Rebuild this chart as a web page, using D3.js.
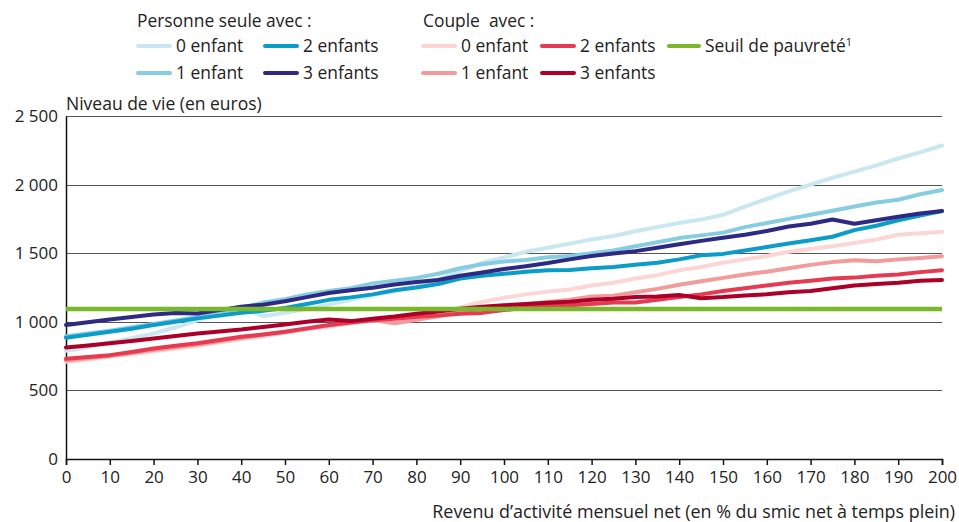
<!DOCTYPE html>
<meta charset="utf-8">
<style>
body { margin: 0; background: #fff; font-family: "Open Sans", sans-serif; }
text { fill: #222; }
</style>
<body>
<script src="https://cdn.jsdelivr.net/npm/d3@7"></script>
<script>
// revenu d'activité (en % du smic), pas de 5
var revenu = d3.range(0, 201, 5);

// niveau de vie (en euros)
var seule0 = [789, 815, 850, 880, 915, 960, 1010, 1060, 1110, 1040, 1065, 1095, 1125, 1160, 1195, 1225, 1260, 1310, 1370, 1430, 1470, 1510, 1540, 1570, 1600, 1625, 1660, 1690, 1720, 1745, 1780, 1840, 1895, 1950, 2000, 2050, 2095, 2140, 2190, 2235, 2285];
var seule1 = [895, 915, 935, 960, 985, 1010, 1035, 1065, 1100, 1140, 1165, 1200, 1225, 1245, 1280, 1300, 1320, 1350, 1390, 1420, 1440, 1450, 1470, 1480, 1500, 1520, 1550, 1580, 1610, 1630, 1650, 1690, 1720, 1750, 1780, 1810, 1840, 1870, 1890, 1930, 1960];
var seule2 = [884, 905, 927, 950, 976, 1000, 1025, 1045, 1066, 1080, 1100, 1130, 1160, 1178, 1200, 1230, 1250, 1275, 1315, 1335, 1350, 1365, 1375, 1378, 1390, 1400, 1415, 1430, 1455, 1485, 1495, 1520, 1545, 1570, 1595, 1620, 1668, 1700, 1740, 1775, 1808];
var seule3 = [976, 996, 1017, 1035, 1054, 1065, 1060, 1085, 1109, 1125, 1150, 1180, 1210, 1230, 1248, 1272, 1290, 1305, 1335, 1360, 1385, 1405, 1428, 1455, 1480, 1498, 1515, 1540, 1565, 1590, 1612, 1635, 1662, 1695, 1715, 1746, 1715, 1740, 1765, 1790, 1808];
var couple0 = [709, 725, 745, 765, 785, 805, 825, 850, 875, 895, 920, 945, 965, 990, 1010, 995, 1025, 1060, 1105, 1145, 1175, 1200, 1220, 1235, 1265, 1285, 1315, 1340, 1375, 1400, 1430, 1455, 1480, 1510, 1530, 1550, 1575, 1600, 1635, 1645, 1656];
var couple1 = [718, 735, 752, 772, 795, 815, 835, 858, 882, 905, 925, 950, 972, 995, 1015, 990, 1015, 1040, 1075, 1095, 1110, 1128, 1145, 1160, 1185, 1190, 1215, 1240, 1270, 1295, 1320, 1345, 1365, 1390, 1415, 1435, 1448, 1442, 1455, 1465, 1478];
var couple2 = [730, 743, 757, 780, 806, 825, 843, 868, 891, 908, 927, 952, 976, 995, 1012, 1022, 1036, 1045, 1058, 1065, 1085, 1105, 1115, 1120, 1130, 1140, 1140, 1160, 1180, 1200, 1225, 1245, 1265, 1285, 1300, 1315, 1322, 1335, 1345, 1362, 1376];
var couple3 = [813, 828, 843, 860, 879, 897, 915, 930, 944, 962, 981, 1000, 1017, 1005, 1022, 1038, 1058, 1075, 1095, 1110, 1120, 1130, 1138, 1146, 1160, 1168, 1180, 1185, 1195, 1172, 1180, 1192, 1200, 1215, 1225, 1245, 1265, 1275, 1285, 1300, 1305];
var seuil = 1093;

var xTicks = d3.range(0, 201, 10);
var yTicks = [0, 500, 1000, 1500, 2000, 2500];

var series = [
  {name: "0 enfant", values: seule0, color: "#c9e7f1"},
  {name: "1 enfant", values: seule1, color: "#86cde1"},
  {name: "2 enfants", values: seule2, color: "#0b9cc8"},
  {name: "3 enfants", values: seule3, color: "#2e2a84"},
  {name: "0 enfant", values: couple0, color: "#fcd6d4"},
  {name: "1 enfant", values: couple1, color: "#f29b9b"},
  {name: "2 enfants", values: couple2, color: "#e63a53"},
  {name: "3 enfants", values: couple3, color: "#ad0029"}
];
var seuilColor = "#79b82c";

var margin = {top: 116, right: 17, bottom: 63, left: 66},
    width = 959 - margin.left - margin.right,
    height = 522 - margin.top - margin.bottom;

var svg = d3.select("body").append("svg")
    .attr("width", 959)
    .attr("height", 522)
    .style("font-size", "17px");

var g = svg.append("g")
    .attr("transform", "translate(" + margin.left + "," + margin.top + ")");

var x = d3.scaleLinear().domain([0, 200]).range([0, width]);
var y = d3.scaleLinear().domain([0, 2500]).range([height, 0]);

// grille horizontale
g.selectAll(".grid")
    .data(yTicks.filter(function(d) { return d > 0; }))
  .enter().append("line")
    .attr("x1", 0)
    .attr("x2", width)
    .attr("y1", function(d) { return Math.round(y(d)) + 0.5; })
    .attr("y2", function(d) { return Math.round(y(d)) + 0.5; })
    .attr("stroke", "#555")
    .attr("stroke-width", 1.2);

// axe des ordonnées (séparateur de milliers : espace)
var frFormat = function(d) { return d >= 1000 ? Math.floor(d / 1000) + " " + d3.format("03d")(d % 1000) : String(d); };
var yAxis = g.append("g")
    .call(d3.axisLeft(y).tickValues(yTicks).tickSize(0).tickPadding(8).tickFormat(frFormat));
yAxis.select(".domain").attr("stroke", "#111").attr("stroke-width", 1.5);
yAxis.selectAll("text").style("font-size", "17px").style("font-family", "Open Sans")
    .attr("fill", "#222").attr("xml:space", "preserve").style("white-space", "pre");

// axe des abscisses
var xAxis = g.append("g")
    .attr("transform", "translate(0," + height + ")")
    .call(d3.axisBottom(x).tickValues(xTicks).tickSizeOuter(0).tickSize(6).tickPadding(6));
xAxis.select(".domain").attr("stroke", "#111").attr("stroke-width", 1.5);
xAxis.selectAll(".tick line").attr("stroke", "#111").attr("stroke-width", 1.5);
xAxis.selectAll("text").style("font-size", "17px").style("font-family", "Open Sans").attr("fill", "#222");

var line = d3.line()
    .x(function(d, i) { return x(revenu[i]); })
    .y(function(d) { return y(d); });

series.forEach(function(s) {
  g.append("path")
      .datum(s.values)
      .attr("fill", "none")
      .attr("stroke", s.color)
      .attr("stroke-width", 4)
      .attr("stroke-linejoin", "round")
      .attr("stroke-linecap", "round")
      .attr("d", line);
});

// seuil de pauvreté
g.append("line")
    .attr("x1", x(0))
    .attr("x2", x(200))
    .attr("y1", y(seuil))
    .attr("y2", y(seuil))
    .attr("stroke", seuilColor)
    .attr("stroke-width", 4.5);

// titres des axes
svg.append("text")
    .attr("x", 66)
    .attr("y", 110)
    .style("font-size", "17.5px")
    .text("Niveau de vie (en euros)");

svg.append("text")
    .attr("x", 955)
    .attr("y", 518)
    .style("text-anchor", "end")
    .style("font-size", "17.9px")
    .text("Revenu d\u2019activité mensuel net (en % du smic net à temps plein)");

// légende
var legend = svg.append("g").style("font-size", "17.4px");
legend.append("text").attr("x", 137).attr("y", 27).text("Personne seule avec :");
legend.append("text").attr("x", 423).attr("y", 27).attr("xml:space", "preserve").text("Couple  avec :");

var legendPos = [
  [138, 46], [138, 73], [265, 46], [265, 73],
  [423, 46], [423, 73], [542, 46], [542, 73]
];
series.forEach(function(s, i) {
  var p = legendPos[i];
  legend.append("line")
      .attr("x1", p[0]).attr("x2", p[0] + 32)
      .attr("y1", p[1]).attr("y2", p[1])
      .attr("stroke", s.color).attr("stroke-width", 4).attr("stroke-linecap", "round");
  legend.append("text").attr("x", p[0] + 38).attr("y", p[1] + 6).text(s.name);
});
legend.append("line")
    .attr("x1", 669).attr("x2", 699)
    .attr("y1", 46).attr("y2", 46)
    .attr("stroke", seuilColor).attr("stroke-width", 4).attr("stroke-linecap", "round");
var st = legend.append("text").attr("x", 705).attr("y", 52).text("Seuil de pauvreté");
st.append("tspan").attr("dy", -6).style("font-size", "11px").text("1");
</script>
</body>
